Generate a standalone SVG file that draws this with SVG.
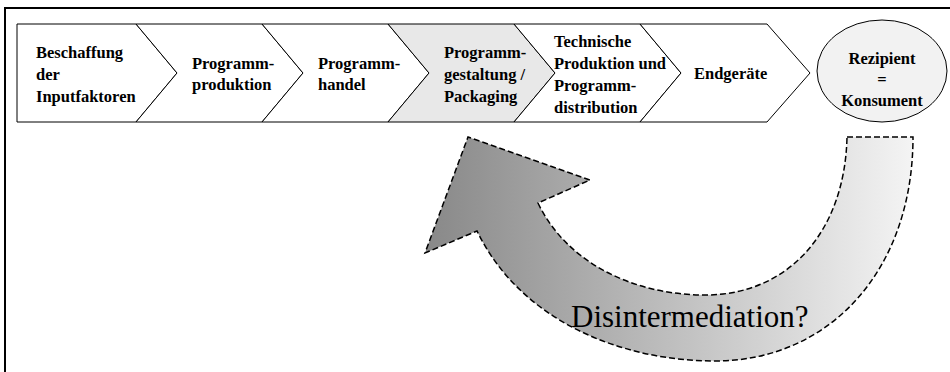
<svg xmlns="http://www.w3.org/2000/svg" width="950" height="372" viewBox="0 0 950 372">
<style>
.chev{fill:#ffffff;stroke:#000;stroke-width:1}
.shade{fill:#e8e8e8}
.lbl{font-family:"Liberation Serif","Times New Roman",serif;font-weight:bold;font-size:16.5px;fill:#000}
.big{font-family:"Liberation Serif","Times New Roman",serif;font-size:31px;fill:#000}
.frame{stroke:#000;stroke-width:2;fill:none}
</style>
<defs>
<linearGradient id="g" gradientUnits="userSpaceOnUse" x1="425" y1="0" x2="913" y2="0">
<stop offset="0" stop-color="#888888"/>
<stop offset="1" stop-color="#f4f4f4"/>
</linearGradient>
</defs>
<rect width="950" height="372" fill="#fff"/>
<path class="frame" d="M5,380 L5,8 L960,8"/>
<g id="n1">
<path class="chev" d="M17,24 L136,24 L177,73 L136,122 L17,122 Z"/>
<text class="lbl"><tspan x="36" y="58">Beschaffung</tspan><tspan x="36" y="80">der</tspan><tspan x="36" y="102">Inputfaktoren</tspan></text>
</g>
<g id="n2">
<path class="chev" d="M136,24 L262,24 L303,73 L262,122 L136,122 L177,73 Z"/>
<text class="lbl"><tspan x="192" y="69">Programm-</tspan><tspan x="192" y="90">produktion</tspan></text>
</g>
<g id="n3">
<path class="chev" d="M262,24 L388,24 L429,73 L388,122 L262,122 L303,73 Z"/>
<text class="lbl"><tspan x="318" y="69">Programm-</tspan><tspan x="318" y="90">handel</tspan></text>
</g>
<g id="n4">
<path class="chev shade" d="M388,24 L514,24 L555,73 L514,122 L388,122 L429,73 Z"/>
<text class="lbl"><tspan x="444" y="58">Programm-</tspan><tspan x="444" y="80">gestaltung /</tspan><tspan x="444" y="102">Packaging</tspan></text>
</g>
<g id="n5">
<path class="chev" d="M514,24 L640,24 L681,73 L640,122 L514,122 L555,73 Z"/>
<text class="lbl"><tspan x="554" y="47">Technische</tspan><tspan x="554" y="69">Produktion und</tspan><tspan x="554" y="91">Programm-</tspan><tspan x="554" y="113">distribution</tspan></text>
</g>
<g id="n6">
<path class="chev" d="M640,24 L767,24 L810,73 L767,122 L640,122 L681,73 Z"/>
<text class="lbl" x="694" y="79">Endgeräte</text>
</g>
<g id="n7">
<ellipse cx="882" cy="71" rx="65" ry="51" fill="#f2f2f2" stroke="#000" stroke-width="1"/>
<text class="lbl" text-anchor="middle"><tspan x="882" y="64">Rezipient</tspan><tspan x="882" y="85">=</tspan><tspan x="882" y="106">Konsument</tspan></text>
</g>
<g id="connectors">
<path d="M847,137 L913,137 C913,270 830,361 715,361 C620,361 520,320 477,231 L425,253 L468,137 L590,180 L538,203 C565,260 630,295 705,295 C790,295 845,230 847,137 Z" fill="url(#g)" stroke="#000" stroke-width="1.5" stroke-dasharray="6 3"/>
<text class="big" x="571" y="327">Disintermediation?</text>
</g>
</svg>
